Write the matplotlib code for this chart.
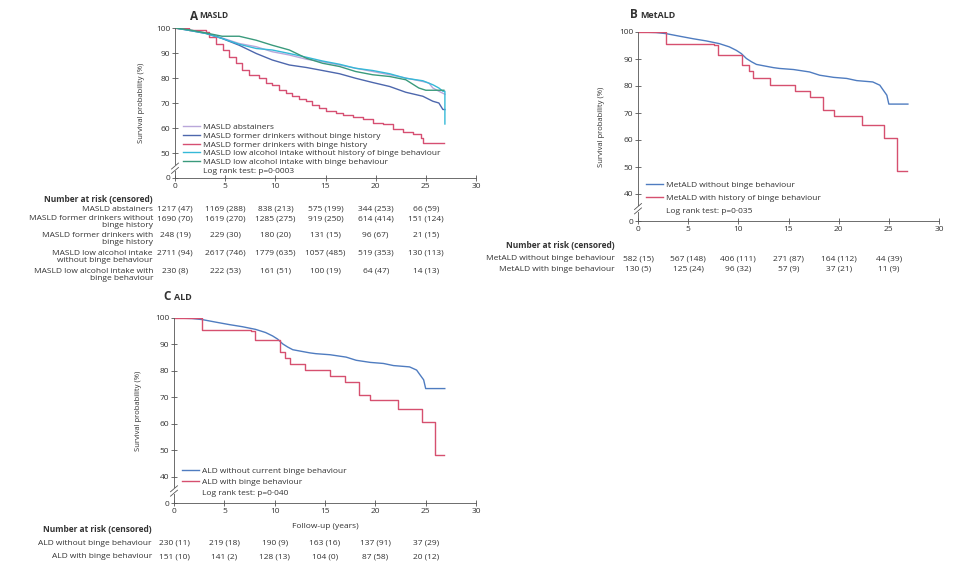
import numpy as np
import matplotlib
matplotlib.use("Agg")
import matplotlib.pyplot as plt
from matplotlib.lines import Line2D
from matplotlib.transforms import blended_transform_factory

plt.rcParams['font.family'] = ['Open Sans', 'DejaVu Sans']

W, H = 960, 570
FS = 6
TXT = '#333333'
AXC = '#555555'

# ---- panel A: MASLD ----
a_labels = ['MASLD abstainers',
            'MASLD former drinkers without binge history',
            'MASLD former drinkers with binge history',
            'MASLD low alcohol intake without history of binge behaviour',
            'MASLD low alcohol intake with binge behaviour']
a_colors = ['#b9a7da', '#4d67ad', '#d64f72', '#35b9d8', '#3a9a7c']

abst_t = [0, 1.5, 3.1, 4.7, 6.4, 8.1, 9.7, 11.4, 13.1, 14.7, 16.4, 18.0, 19.7, 21.4, 23.0, 24.7, 25.3, 25.7, 26.3, 26.9]
abst_s = [100, 99.2, 98.0, 96.0, 93.8, 92.5, 90.5, 89.2, 87.5, 86.5, 85.2, 83.9, 82.6, 81.3, 80.0, 78.6, 78.0, 76.0, 74.7, 73.5]

fmr_t = [0, 1.5, 3.1, 4.7, 6.4, 8.1, 9.7, 11.4, 13.1, 14.7, 16.4, 18.0, 19.7, 21.4, 23.0, 24.7, 25.7, 26.3, 26.7, 26.9]
fmr_s = [100, 99.0, 97.8, 95.8, 93.1, 89.8, 87.2, 85.2, 84.2, 83.0, 81.7, 79.9, 78.2, 76.6, 74.3, 72.7, 70.7, 70.0, 67.4, 67.4]

fmrb_t = [0, 1.4, 3.1, 3.4, 4.1, 4.75, 5.4, 6.1, 6.7, 7.4, 8.4, 9.1, 9.7, 10.4, 11.1, 11.7, 12.4, 13.1, 13.7,
          14.4, 15.0, 16.0, 16.7, 17.7, 18.7, 19.7, 20.7, 21.7, 22.7, 23.7, 24.5, 24.7, 26.8]
fmrb_s = [100, 99.3, 98.4, 96.4, 93.8, 91.2, 88.5, 85.9, 83.2, 81.3, 80.0, 78.0, 77.3, 75.3, 74.0, 72.7, 71.6, 70.7, 69.4,
          68.1, 66.8, 66.1, 65.4, 64.5, 63.5, 61.9, 61.5, 59.5, 58.4, 57.8, 56.2, 54.2, 54.2]

low_t = [0, 1.5, 3.1, 4.7, 6.4, 8.1, 9.7, 11.4, 13.1, 14.7, 16.4, 18.0, 19.7, 21.4, 23.0, 24.7, 25.7, 26.3, 26.7, 26.9, 26.9]
low_s = [100, 99.0, 97.8, 95.8, 93.5, 91.8, 91.2, 89.8, 88.3, 86.8, 85.5, 83.9, 83.0, 81.7, 79.9, 78.9, 77.3, 76.0, 74.7, 74.7, 61.6]

lowb_t = [0, 1.5, 3.1, 4.7, 6.4, 8.1, 9.7, 11.4, 13.1, 14.7, 16.4, 18.0, 19.7, 21.4, 23.0, 24.3, 25.0, 26.8]
lowb_s = [100, 99.2, 98.0, 96.7, 96.7, 95.1, 93.1, 91.2, 87.9, 85.9, 84.6, 82.6, 81.3, 80.6, 79.3, 76.0, 75.1, 75.1]

a_risk_rows = ['MASLD abstainers',
               'MASLD former drinkers without\nbinge history',
               'MASLD former drinkers with\nbinge history',
               'MASLD low alcohol intake\nwithout binge behaviour',
               'MASLD low alcohol intake with\nbinge behaviour']
a_risk = [['1217 (47)', '1169 (288)', '838 (213)', '575 (199)', '344 (253)', '66 (59)'],
          ['1690 (70)', '1619 (270)', '1285 (275)', '919 (250)', '614 (414)', '151 (124)'],
          ['248 (19)', '229 (30)', '180 (20)', '131 (15)', '96 (67)', '21 (15)'],
          ['2711 (94)', '2617 (746)', '1779 (635)', '1057 (485)', '519 (353)', '130 (113)'],
          ['230 (8)', '222 (53)', '161 (51)', '100 (19)', '64 (47)', '14 (13)']]

# ---- panel B: MetALD ----
b_labels = ['MetALD without binge behaviour', 'MetALD with history of binge behaviour']
met_t = [0, 1.8, 2.8, 4.2, 5.5, 6.8, 8.1, 9.1, 9.8, 10.3, 10.8, 11.3, 11.8, 12.5, 13.5, 14.1, 15.5, 17.1,
         18.1, 19.5, 20.8, 21.8, 23.4, 24.1, 24.4, 24.8, 25.0, 26.9]
met_s = [100, 99.8, 99.4, 98.4, 97.5, 96.7, 95.7, 94.5, 93.2, 92.0, 90.2, 89.0, 88.0, 87.5, 86.8, 86.5, 86.1, 85.2,
         84.0, 83.2, 82.8, 82.0, 81.5, 80.3, 78.7, 76.6, 73.3, 73.3]
metb_t = [0, 2.8, 7.6, 8.0, 10.4, 11.1, 11.5, 13.2, 15.6, 17.1, 18.4, 19.5, 22.3, 24.5, 25.8, 26.8]
metb_s = [100, 95.7, 95.2, 91.6, 87.8, 85.4, 82.9, 80.5, 78.0, 75.8, 71.0, 68.8, 65.7, 60.6, 48.4, 48.4]
b_risk_rows = ['MetALD without binge behaviour', 'MetALD with binge behaviour']
b_risk = [['582 (15)', '567 (148)', '406 (111)', '271 (87)', '164 (112)', '44 (39)'],
          ['130 (5)', '125 (24)', '96 (32)', '57 (9)', '37 (21)', '11 (9)']]

# ---- panel C: ALD ----
c_labels = ['ALD without current binge behaviour', 'ALD with binge behaviour']
ald_t = [0, 1.8, 2.8, 4.2, 5.5, 6.8, 8.1, 9.1, 9.8, 10.3, 10.8, 11.3, 11.8, 12.5, 13.5, 14.1, 15.5, 17.1,
         18.1, 19.5, 20.8, 21.8, 23.4, 24.1, 24.4, 24.8, 25.0, 26.9]
ald_s = [100, 99.8, 99.4, 98.4, 97.5, 96.7, 95.7, 94.5, 93.2, 92.0, 90.2, 89.0, 88.0, 87.5, 86.8, 86.5, 86.1, 85.2,
         84.0, 83.2, 82.8, 82.0, 81.5, 80.3, 78.7, 76.6, 73.3, 73.3]
aldb_t = [0, 2.8, 7.6, 8.0, 10.5, 11.0, 11.5, 13.0, 15.5, 17.0, 18.4, 19.5, 22.3, 24.6, 25.9, 26.8]
aldb_s = [100, 95.5, 95.0, 91.5, 87.0, 85.0, 82.5, 80.3, 78.0, 75.8, 71.0, 68.8, 65.6, 60.5, 48.3, 48.3]
c_risk_rows = ['ALD without binge behaviour', 'ALD with binge behaviour']
c_risk = [['230 (11)', '219 (18)', '190 (9)', '163 (16)', '137 (91)', '37 (29)'],
          ['151 (10)', '141 (2)', '128 (13)', '104 (0)', '87 (58)', '20 (12)']]

risk_x = [0, 5, 10, 15, 20, 25]
BLUE = '#4f7cc0'
RED = '#d6506f'


def broken_scale(cut, floor):
    # values below `cut` are squeezed into one tick step [floor, cut]
    def fwd(y):
        y = np.asarray(y, dtype=float)
        return np.where(y >= cut, y, floor + y * (cut - floor) / cut)

    def inv(t):
        t = np.asarray(t, dtype=float)
        return np.where(t >= cut, t, (t - floor) * cut / (cut - floor))
    return fwd, inv


def px_box(l, t, r, b):
    return [l / W, 1 - b / H, (r - l) / W, (b - t) / H]


def style_axes(ax, cut, floor, ylab_x, brk):
    ax.set_yscale('function', functions=broken_scale(cut, floor))
    ax.set_ylim(0, 100)
    ax.set_xlim(0, 30)
    ax.set_xticks(range(0, 31, 5))
    ax.set_yticks([0] + list(range(cut, 101, 10)))
    for s in ['top', 'right']:
        ax.spines[s].set_visible(False)
    for s in ['left', 'bottom']:
        ax.spines[s].set_color(AXC)
        ax.spines[s].set_linewidth(0.6)
    ax.tick_params(direction='inout', length=4, width=0.6, color=AXC,
                   labelsize=FS, labelcolor=TXT, pad=1.5)
    ax.set_ylabel('Survival probability (%)', fontsize=FS - 0.5, color=TXT)
    ax.yaxis.set_label_coords(ylab_x, 0.5)
    # axis break marks
    bb = ax.get_position()
    dx = 3.5 / (bb.width * W)
    dy = 3.0 / (bb.height * H)
    g = 2.2 / (bb.height * H)
    ax.plot([0, 0], [brk - g, brk + g], transform=ax.transAxes, color='white',
            lw=1.5, clip_on=False, zorder=5)
    for off in (-g, g):
        ax.plot([-dx, dx], [brk + off - dy, brk + off + dy], transform=ax.transAxes,
                color=AXC, lw=0.6, clip_on=False, zorder=6)


def add_legend(ax, handles, text, spacing, y0):
    hs = handles + [Line2D([], [], color='none')]
    labels = [h.get_label() for h in handles] + [text]
    ax.legend(hs, labels, loc='lower left', bbox_to_anchor=(0.027, y0), frameon=False,
              fontsize=FS, handlelength=2.0, handletextpad=0.35, labelspacing=spacing,
              borderpad=0, borderaxespad=0, labelcolor=TXT)


def risk_table(ax, label_px, head_px, row_px, rows, vals):
    tr = blended_transform_factory(ax.transData, fig.transFigure)
    fig.text(label_px / W, 1 - head_px / H, 'Number at risk (censored)', ha='right', va='center',
             fontsize=FS, fontweight='bold', color=TXT)
    for lab, yp, rv in zip(rows, row_px, vals):
        fig.text(label_px / W, 1 - (yp - 3) / H, lab, ha='right', va='top', fontsize=FS,
                 color=TXT, linespacing=0.95, multialignment='right')
        for xv, v in zip(risk_x, rv):
            ax.text(xv, 1 - (yp - 3) / H, v, transform=tr, ha='center', va='top',
                    fontsize=FS, color=TXT)


fig = plt.figure(figsize=(W / 100, H / 100), dpi=100)

# panel A
axA = fig.add_axes(px_box(175, 28, 476, 178))
hA = []
hA += axA.plot(abst_t, abst_s, color=a_colors[0], lw=1.0, label=a_labels[0])
hA += axA.plot(fmr_t, fmr_s, color=a_colors[1], lw=1.0, label=a_labels[1])
hA += axA.step(fmrb_t, fmrb_s, where='post', color=a_colors[2], lw=1.0, label=a_labels[2])
hA += axA.plot(low_t, low_s, color=a_colors[3], lw=1.0, label=a_labels[3])
hA += axA.plot(lowb_t, lowb_s, color=a_colors[4], lw=1.0, label=a_labels[4])
style_axes(axA, 50, 40, -0.1, 0.065)
add_legend(axA, hA, 'Log rank test: p=0·0003', 0.12, 0.02)
risk_table(axA, 153, 199, [209, 218, 235, 253, 271], a_risk_rows, a_risk)
fig.text(190 / W, 1 - 16 / H, 'A', fontsize=8.5, fontweight='bold', color=TXT, va='center')
fig.text(199 / W, 1 - 16 / H, 'MASLD', fontsize=6, fontweight='bold', color=TXT, va='center')

# panel B
axB = fig.add_axes(px_box(638, 32, 939, 221))
hB = []
hB += axB.plot(met_t, met_s, color=BLUE, lw=1.0, label=b_labels[0])
hB += axB.step(metb_t, metb_s, where='post', color=RED, lw=1.0, label=b_labels[1])
style_axes(axB, 40, 30, -0.11, 0.065)
add_legend(axB, hB, 'Log rank test: p=0·035', 0.65, 0.03)
risk_table(axB, 615, 246, [258, 269], b_risk_rows, b_risk)
fig.text(630 / W, 1 - 15 / H, 'B', fontsize=8.5, fontweight='bold', color=TXT, va='center')
fig.text(640 / W, 1 - 15 / H, 'MetALD', fontsize=6.5, fontweight='bold', color=TXT, va='center')

# panel C
axC = fig.add_axes(px_box(174, 318, 476, 503))
hC = []
hC += axC.plot(ald_t, ald_s, color=BLUE, lw=1.0, label=c_labels[0])
hC += axC.step(aldb_t, aldb_s, where='post', color=RED, lw=1.0, label=c_labels[1])
style_axes(axC, 40, 30, -0.106, 0.065)
add_legend(axC, hC, 'Log rank test: p=0·040', 0.42, 0.03)
axC.set_xlabel('Follow-up (years)', fontsize=FS, color=TXT, labelpad=6)
risk_table(axC, 152, 530, [543, 556], c_risk_rows, c_risk)
fig.text(163 / W, 1 - 297 / H, 'C', fontsize=8.5, fontweight='bold', color=TXT, va='center')
fig.text(174 / W, 1 - 297 / H, 'ALD', fontsize=6.5, fontweight='bold', color=TXT, va='center')

fig.savefig('out.png', dpi=100)
